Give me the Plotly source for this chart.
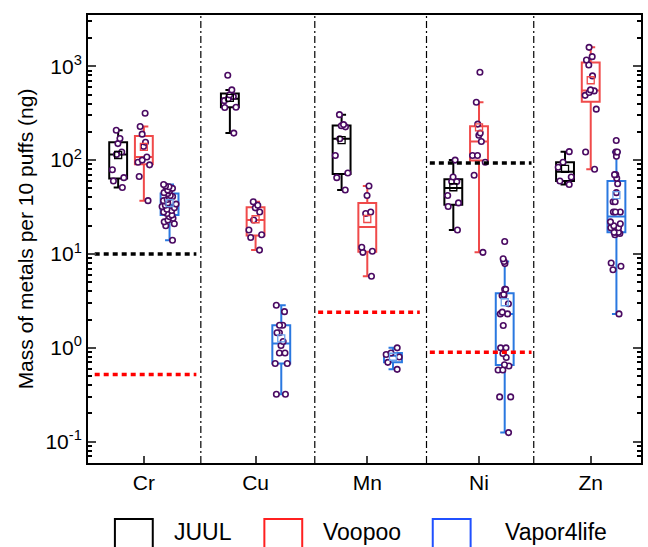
import numpy as np
import plotly.graph_objects as go

metals = ["Cr", "Cu", "Mn", "Ni", "Zn"]
brands = ["JUUL", "Voopoo", "Vapor4life"]

# values per metal (Cr, Cu, Mn, Ni, Zn), ng per 10 puffs
juul_cr = [208, 170, 150, 122, 115, 79, 65, 60, 51]
juul_cu = [802, 560, 495, 475, 450, 430, 366, 363, 194]
juul_mn = [305, 239, 232, 226, 169, 112, 73, 65, 48]
juul_ni = [100, 66, 59, 59, 42, 35, 32, 18]
juul_zn = [123, 95, 84, 66, 60, 55]

voopoo_cr = [316, 228, 189, 155, 140, 108, 100, 95, 89, 67, 37]
voopoo_cu = [36, 33, 31, 28, 23, 18, 16, 15, 11]
voopoo_mn = [53, 42, 28, 27, 11.8, 10.7, 10.4, 5.8]
voopoo_ni = [863, 414, 242, 194, 184, 158, 112, 112, 95, 69, 10.4]
voopoo_zn = [1590, 1265, 1166, 1032, 789, 560, 546, 525, 490, 349, 122, 80]

vapor_cr = [55, 53, 52, 50, 48, 47, 45, 44, 42, 41, 40, 38, 37, 35, 34,
            33, 32, 31, 30, 29, 28, 27, 26, 25, 24, 23, 22, 21, 20, 14]
vapor_cu = [2.84, 2.43, 1.74, 1.74, 1.45, 1.45, 1.17, 1.06, 0.88, 0.88,
            0.68, 0.68, 0.32, 0.32]
vapor_mn = [1.0, 0.88, 0.85, 0.8, 0.70, 0.59]
vapor_ni = [13.6, 8.9, 8.3, 7.9, 4.2, 4.2, 3.7, 3.6, 3.6, 2.95, 2.4, 2.3, 2.3,
            1.73, 1.0, 1.0, 0.87, 0.79, 0.66, 0.64, 0.58, 0.58, 0.30, 0.30, 0.125]
vapor_zn = [162, 122, 122, 110, 70, 70, 64, 56, 45, 36, 36, 28, 28, 28, 22,
            21, 20, 19, 19, 17, 17, 17, 16.5, 16, 8.0, 7.4, 6.8, 2.3]

juul = [juul_cr, juul_cu, juul_mn, juul_ni, juul_zn]
voopoo = [voopoo_cr, voopoo_cu, voopoo_mn, voopoo_ni, voopoo_zn]
vapor = [vapor_cr, vapor_cu, vapor_mn, vapor_ni, vapor_zn]

# reference limits
black_limit_metals = ["Cr", "Ni"]
black_limit_values = [10, 93]
red_limit_metals = ["Cr", "Mn", "Ni"]
red_limit_values = [0.52, 2.4, 0.9]

ytick_vals = [0.1, 1, 10, 100, 1000]
ytick_text = ["10<sup>-1</sup>", "10<sup>0</sup>", "10<sup>1</sup>",
              "10<sup>2</sup>", "10<sup>3</sup>"]

box_colors = ["#000000", "#f04a4a", "#2a78e0"]
mean_colors = ["#000000", "#f04a4a", "#6aa2ec"]
legend_colors = ["#000000", "#ff2020", "#2050ff"]
offsets = [-0.23, 0.0, 0.23]
point_color = "#4a0a62"
FONT = "Liberation Sans, Arial, sans-serif"

fig = go.Figure()

for b, (name, data) in enumerate(zip(brands, [juul, voopoo, vapor])):
    for i, vals in enumerate(data):
        fig.add_trace(go.Box(
            x=[i + offsets[b]] * len(vals), y=vals,
            name=name, showlegend=False,
            boxpoints="all", jitter=0.9, pointpos=0,
            width=0.16, whiskerwidth=0.5,
            line=dict(color=box_colors[b], width=2),
            fillcolor="rgba(255,255,255,0)",
            marker=dict(color="white", size=5.5,
                        line=dict(color=point_color, width=1.6)),
        ))
    means = [float(np.mean(v)) for v in data]
    fig.add_trace(go.Scatter(
        x=[i + offsets[b] for i in range(len(data))], y=means,
        mode="markers", showlegend=False,
        marker=dict(symbol="square-open", size=7, color=mean_colors[b],
                    line=dict(width=1.3)),
    ))

for mlist, vlist, col in [(black_limit_metals, black_limit_values, "#000000"),
                          (red_limit_metals, red_limit_values, "#ff0000")]:
    for m, v in zip(mlist, vlist):
        i = metals.index(m)
        fig.add_trace(go.Scatter(
            x=[i - 0.44, i + 0.47], y=[v, v], mode="lines", showlegend=False,
            line=dict(color=col, width=3.5, dash="5px,4px"),
        ))

for sx in [0.51, 1.53, 2.53, 3.49]:
    fig.add_shape(type="line", xref="x", yref="paper", x0=sx, x1=sx, y0=0, y1=1,
                  line=dict(color="black", width=1.2, dash="7px,3px,2px,3px"))

# manual legend
leg_x = [(115, 153), (265, 303), (434, 472)]
leg_tx = [172, 322, 505]
W, H = 648, 547
PL, PR, PT, PB = 88, 643, 15, 463
for k, name in enumerate(brands):
    x0, x1 = leg_x[k]
    fig.add_shape(type="rect", xref="paper", yref="paper",
                  x0=(x0 - PL) / (PR - PL), x1=(x1 - PL) / (PR - PL),
                  y0=(PB - 552) / (PB - PT), y1=(PB - 519) / (PB - PT),
                  line=dict(color=legend_colors[k], width=2))
    fig.add_annotation(xref="paper", yref="paper", x=(leg_tx[k] - PL) / (PR - PL),
                       y=(PB - 532) / (PB - PT), xanchor="left", yanchor="middle",
                       text=name, showarrow=False,
                       font=dict(family=FONT, size=23, color="black"))

minor_vals = [m * 10.0 ** k for k in range(-2, 4) for m in range(2, 10)]

fig.update_layout(
    width=W, height=H,
    margin=dict(l=PL, r=W - PR, t=PT, b=H - PB),
    paper_bgcolor="white", plot_bgcolor="white",
    boxmode="overlay",
    font=dict(family=FONT, size=21, color="black"),
    xaxis=dict(range=[-0.5, 4.45], tickmode="array", tickvals=list(range(5)),
               ticktext=metals, ticks="inside", ticklen=7, tickwidth=1.5,
               showline=True, linecolor="black", linewidth=2, mirror=True,
               showgrid=False, zeroline=False, tickfont=dict(size=21)),
    yaxis=dict(type="log", range=[-1.227, 3.546], tickmode="array",
               tickvals=ytick_vals, ticktext=ytick_text,
               ticks="inside", ticklen=8, tickwidth=2,
               minor=dict(tickmode="array", tickvals=minor_vals, ticks="inside",
                          ticklen=4, tickwidth=1.5, tickcolor="black", showgrid=False),
               showline=True, linecolor="black", linewidth=2, mirror="allticks",
               showgrid=False, zeroline=False, tickfont=dict(size=21),
               title=dict(text="Mass of metals per 10 puffs (ng)", standoff=6,
                          font=dict(size=21))),
)

fig.write_html("out.html", config={"displayModeBar": False},
               post_script="document.body.style.margin='0';document.body.style.overflow='hidden';")
